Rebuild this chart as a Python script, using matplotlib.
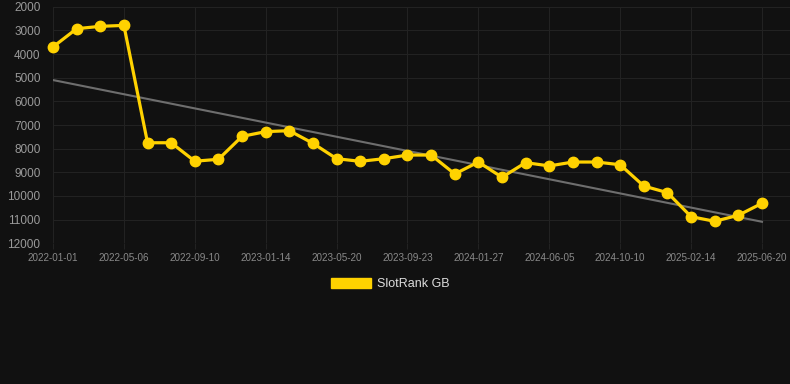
import numpy as np
import matplotlib
matplotlib.use("Agg")
from matplotlib import pyplot as plt
from matplotlib.patches import Patch

plt.rcParams['font.family'] = ['Liberation Sans', 'DejaVu Sans']

# rank values, one point every ~42 days from 2022-01-01 to 2025-06-20
ranks = [3700, 2930, 2830, 2790, 7750, 7750, 8530, 8450, 7480, 7280, 7240,
         7775, 8425, 8535, 8425, 8270, 8270, 9070, 8565, 9210, 8590, 8730,
         8565, 8565, 8680, 9580, 9860, 10875, 11070, 10815, 10310]
tick_labels = ['2022-01-01', '2022-05-06', '2022-09-10', '2023-01-14', '2023-05-20',
               '2023-09-23', '2024-01-27', '2024-06-05', '2024-10-10', '2025-02-14',
               '2025-06-20']
trend_ends = [5100, 11090]

bg = '#111111'
fig = plt.figure(figsize=(7.9, 3.84), dpi=100, facecolor=bg)
ax = fig.add_axes([53/790, 1-243.3/384, (790-53)/790, (243.3-6.7)/384], facecolor=bg)

x = np.arange(len(ranks))
ax.plot([x[0], x[-1]], trend_ends, color='#6e6e6e', lw=1.5, zorder=2)
ax.plot(x, ranks, color='#FFD200', lw=2.3, marker='o', ms=7.5, zorder=3, clip_on=False)

ax.set_ylim(12000, 2000)
ax.set_yticks(range(2000, 12001, 1000))
ax.set_xlim(0, 30 + 28/23.63)
ax.set_xticks(x[::3])
ax.set_xticklabels(tick_labels)

ax.grid(True, color='#222222', lw=0.8)
ax.set_axisbelow(True)
for s in ax.spines.values():
    s.set_visible(False)
ax.tick_params(axis='y', length=0, pad=9, labelsize=8.5, labelcolor='#9a9a9a')
ax.tick_params(axis='x', length=4, color='#222222', pad=3, labelsize=7.1, labelcolor='#8a8a8a')

handle = Patch(facecolor='#FFD200', edgecolor='#FFD200')
fig.legend([handle], ['SlotRank GB'], loc='center', bbox_to_anchor=(390/790, 1-284/384),
           frameon=False, fontsize=9, labelcolor='#dddddd', handlelength=3.2,
           handleheight=0.9, handletextpad=0.5)

fig.savefig('out.png', dpi=100, facecolor=bg)
